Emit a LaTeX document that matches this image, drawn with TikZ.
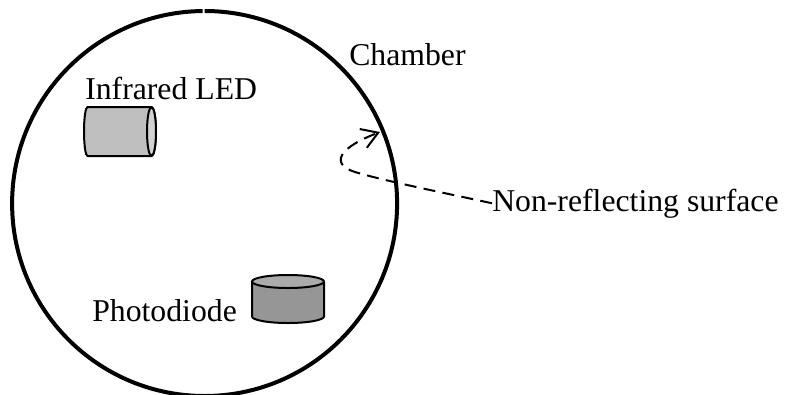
\documentclass[tikz,border=0pt]{standalone}
\usepackage{fontspec}
\setmainfont{Liberation Serif}
\usetikzlibrary{arrows.meta}
\definecolor{ledbody}{HTML}{BFBFBF}
\definecolor{ledface}{HTML}{D2D2D2}
\definecolor{diodebody}{HTML}{969696}
\definecolor{diodeface}{HTML}{ABABAB}
\tikzset{
    label text/.style={inner sep=0pt, font=\fontsize{23.8pt}{28pt}\selectfont},
    part/.style={draw=black, line width=1.5pt, line join=round},
    leader/.style={draw=black, line width=1.5pt, dash pattern=on 9pt off 5.5pt},
}

\begin{document}
\begin{tikzpicture}[x=.75pt, y=-.75pt]
    \useasboundingbox (0,0) rectangle (788,394);

    % Kammer.
    \draw[line width=3pt] (204.6,11) arc[start angle=-90, end angle=269.4, radius=192.5];

    % LED.
    \draw[part, fill=ledbody] (151.5,107) -- (87.5,107) arc[start angle=-90, end angle=-270, x radius=3.5, y radius=24.5]
        -- (151.5,156) arc[start angle=90, end angle=-90, x radius=4.5, y radius=24.5];
    \draw[part, fill=ledface] (151.5,131.5) ellipse[x radius=4.5, y radius=24.5];

    % Fotodiode.
    \draw[part, fill=diodebody] (252,282) -- (252,316.5) arc[start angle=180, end angle=0, x radius=36, y radius=6.5] -- (324,282);
    \draw[part, fill=diodeface] (288,281.5) ellipse[x radius=36, y radius=6.5];

    % Beschriftung.
    \node[label text, anchor=base west] (chamber) at (349,65) {Chamber};
    \node[label text, anchor=base west] (led) at (85,99) {Infrared LED};
    \node[label text, anchor=base west] (diode) at (92,321) {Photodiode};
    \node[label text, anchor=base west] (surface) at (492,211) {Non-reflecting surface};

    % Pfeil.
    \coordinate (tip) at (380,132);
    \draw[leader, -{Straight Barb[length=12pt, width=15pt, line width=1.5pt]}]
        (surface.west) .. controls (440,192) and (385,181) .. (355,172)
        .. controls (330,164) and (338,148) .. (tip);
\end{tikzpicture}
\end{document}
